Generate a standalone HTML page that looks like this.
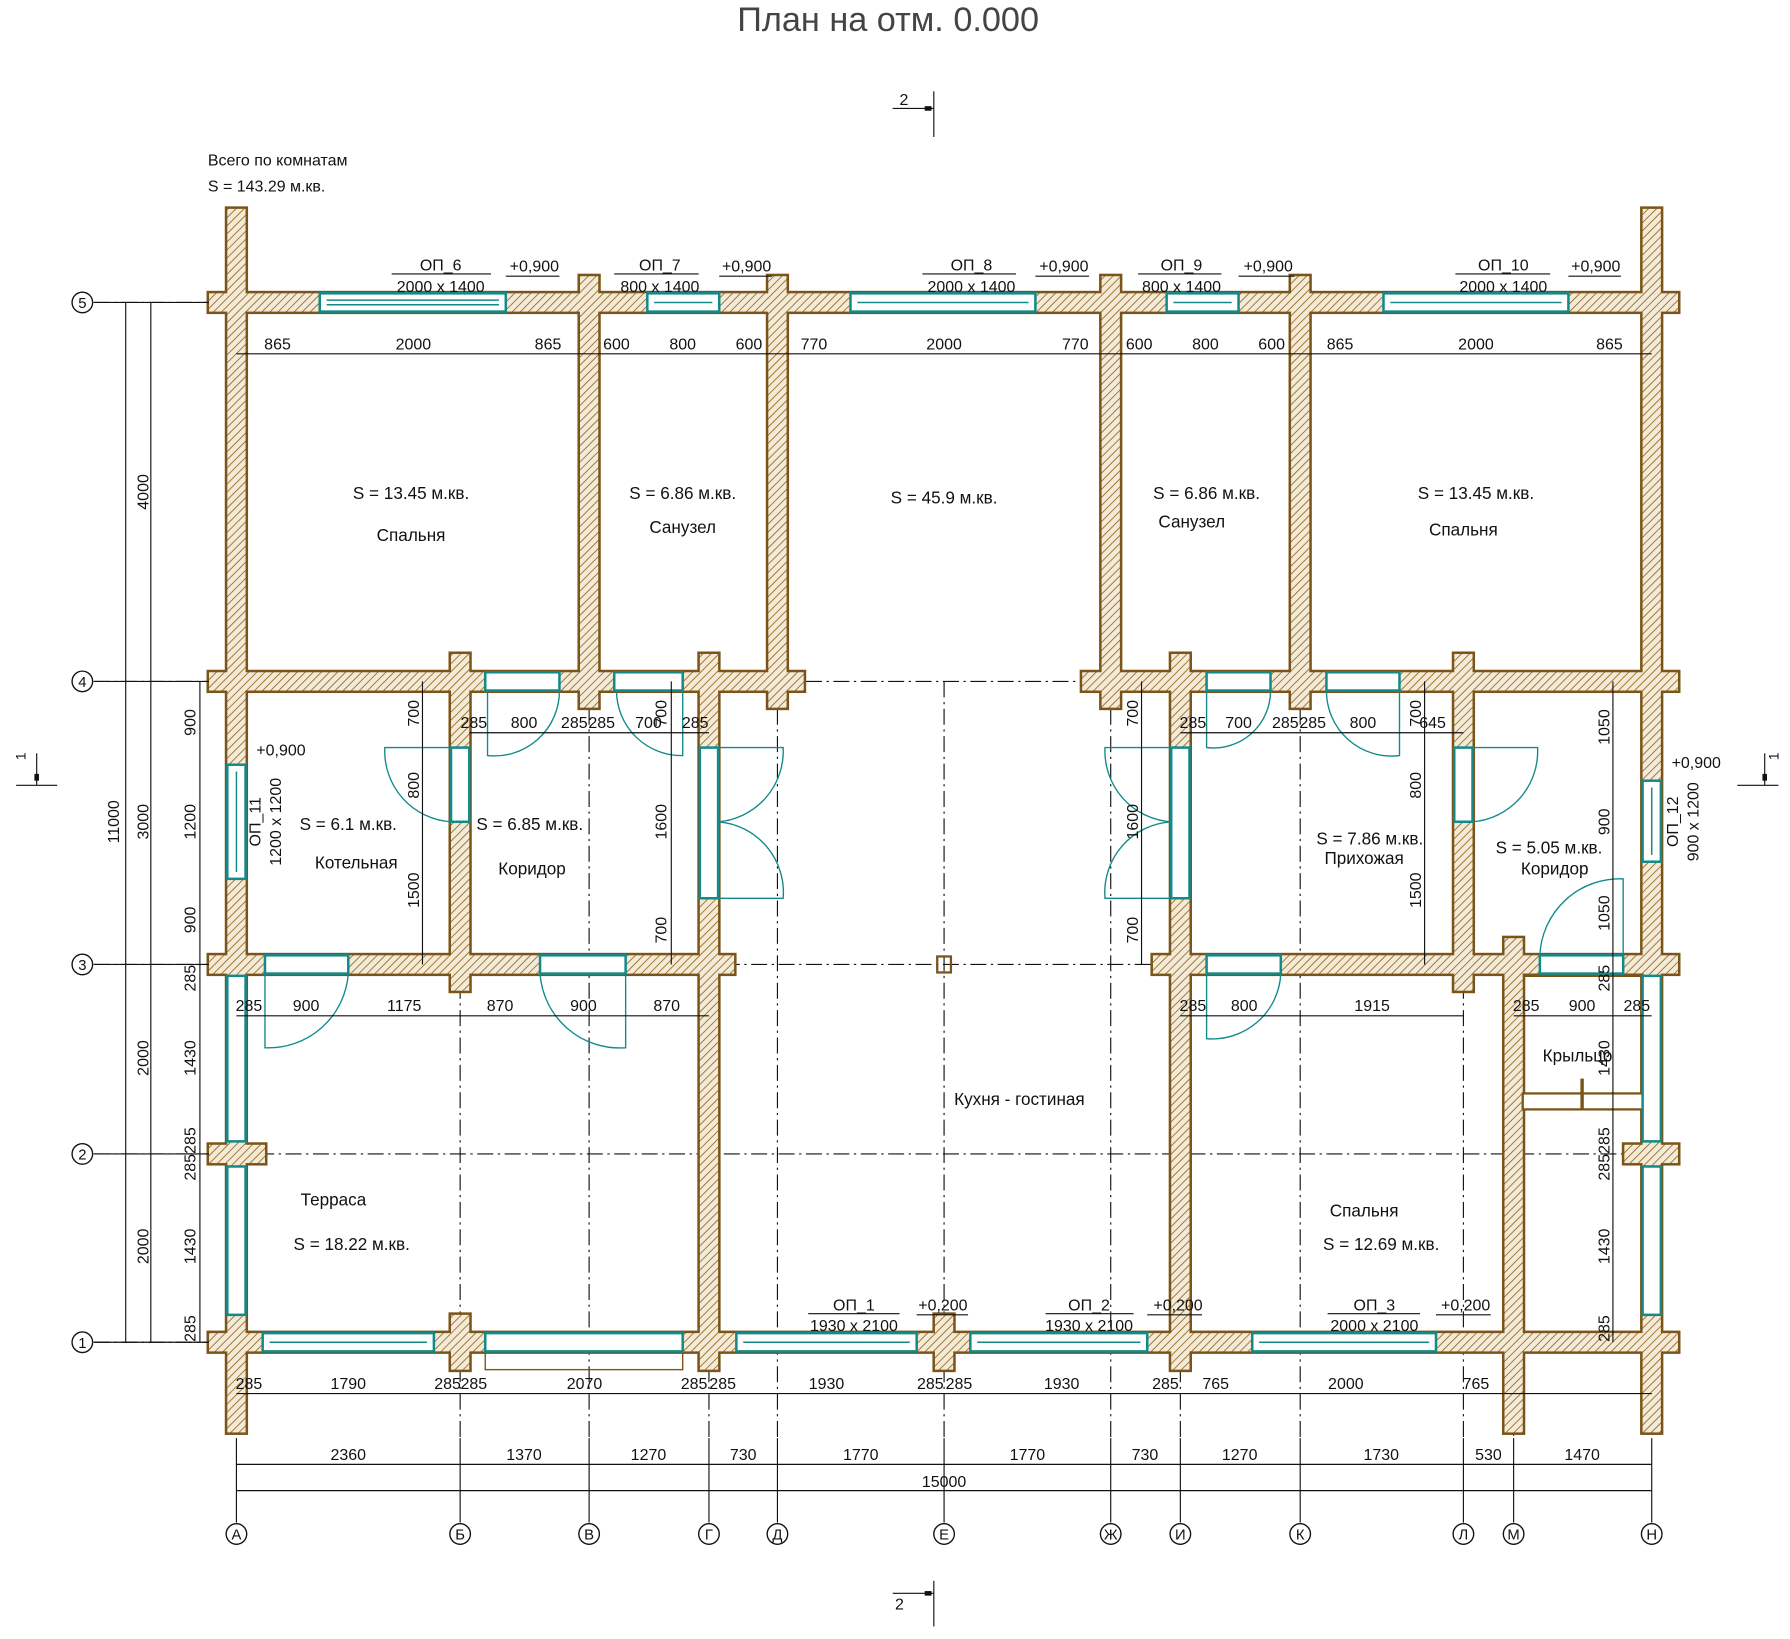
<!DOCTYPE html>
<html><head><meta charset="utf-8"><style>
html,body{margin:0;padding:0;background:#fff}
svg{display:block}
text{font-family:"Liberation Sans Narrow","Liberation Sans","DejaVu Sans",sans-serif;fill:#111}
.d{font-size:14px;text-anchor:middle}
.r{font-size:15px;text-anchor:middle}
.wo{fill:#7a5418;stroke:#7a5418;stroke-width:4.4}
.wf{fill:url(#h);stroke:none}
.g{fill:#fff;stroke:#138a8a;stroke-width:2.2}
.gl{stroke:#138a8a;stroke-width:1.3;fill:none}
.sw{stroke:#138a8a;stroke-width:1.2;fill:none}
.ax{stroke:#111;stroke-width:1;stroke-dasharray:14 4 2 4;fill:none}
.ln{stroke:#111;stroke-width:1;fill:none}
.bub{fill:#fff;stroke:#111;stroke-width:1.2}
</style></head><body>
<svg width="1790" height="1639" viewBox="0 0 1568 1436" xmlns="http://www.w3.org/2000/svg" xmlns:xlink="http://www.w3.org/1999/xlink">
<defs>
<pattern id="h" width="5" height="5" patternUnits="userSpaceOnUse" patternTransform="rotate(45)">
<rect width="5" height="5" fill="#f3ead8"/><line x1="0" y1="0" x2="0" y2="5" stroke="#9a7030" stroke-width="1.6"/>
</pattern>
<g id="walls">
<rect x="183" y="257" width="1287" height="16"/>
<rect x="183" y="589" width="521" height="16"/>
<rect x="948" y="589" width="522" height="16"/>
<rect x="183" y="837" width="460" height="16"/>
<rect x="1010" y="837" width="460" height="16"/>
<rect x="183" y="1168" width="1287" height="16"/>
<rect x="199" y="183" width="16" height="1072"/>
<rect x="1439" y="183" width="16" height="1072"/>
<rect x="508" y="242" width="16" height="378"/>
<rect x="673" y="242" width="16" height="378"/>
<rect x="965" y="242" width="16" height="378"/>
<rect x="1131" y="242" width="16" height="378"/>
<rect x="395" y="573" width="16" height="295"/>
<rect x="395" y="1152" width="16" height="48"/>
<rect x="613" y="573" width="16" height="627"/>
<rect x="1026" y="573" width="16" height="627"/>
<rect x="1274" y="573" width="16" height="295"/>
<rect x="1318" y="822" width="16" height="433"/>
<rect x="819" y="1152" width="16" height="48"/>
<rect x="183" y="1003" width="49" height="16"/>
<rect x="1423" y="1003" width="47" height="16"/>
</g>
</defs>
<rect width="1568" height="1436" fill="#fff"/>
<text x="778" y="27" style="font-size:30px;text-anchor:middle;fill:#444">План на отм. 0.000</text>
<text x="182" y="145" style="font-size:14px">Всего по комнатам</text>
<text x="182" y="168" style="font-size:14px">S   =  143.29 м.кв.</text>

<line x1="818" y1="80" x2="818" y2="120" class="ln" stroke-width="1.5"/><line x1="782" y1="95" x2="818" y2="95" class="ln"/><rect x="810" y="93" width="6" height="4" fill="#111"/><text x="788" y="92" style="font-size:14px">2</text>
<line x1="818" y1="1385" x2="818" y2="1425" class="ln" stroke-width="1.5"/><line x1="782" y1="1396" x2="818" y2="1396" class="ln"/><rect x="810" y="1394" width="6" height="4" fill="#111"/><text x="784" y="1410" style="font-size:14px">2</text>
<line x1="14" y1="688" x2="50" y2="688" class="ln" stroke-width="1.5"/><line x1="32" y1="660" x2="32" y2="688" class="ln"/><rect x="30" y="678" width="4" height="6" fill="#111"/><text x="22" y="666" style="font-size:12px" transform="rotate(-90 22 666)">1</text>
<line x1="1522" y1="688" x2="1558" y2="688" class="ln" stroke-width="1.5"/><line x1="1546" y1="660" x2="1546" y2="688" class="ln"/><rect x="1544" y="678" width="4" height="6" fill="#111"/><text x="1558" y="666" style="font-size:12px" transform="rotate(-90 1558 666)">1</text>

<g class="ax">
<line x1="82" y1="265" x2="1470" y2="265"/><line x1="82" y1="597" x2="1470" y2="597"/><line x1="82" y1="845" x2="1470" y2="845"/><line x1="82" y1="1011" x2="1470" y2="1011"/><line x1="82" y1="1176" x2="1470" y2="1176"/>
<line x1="403" y1="597" x2="403" y2="1260"/><line x1="516" y1="597" x2="516" y2="1260"/><line x1="621" y1="597" x2="621" y2="1260"/><line x1="681" y1="597" x2="681" y2="1260"/><line x1="827" y1="597" x2="827" y2="1260"/><line x1="973" y1="597" x2="973" y2="1260"/><line x1="1034" y1="597" x2="1034" y2="1260"/><line x1="1139" y1="597" x2="1139" y2="1260"/><line x1="1282" y1="597" x2="1282" y2="1260"/><line x1="1326" y1="860" x2="1326" y2="1260"/>
</g>
<rect x="821" y="838" width="12" height="14" fill="none" stroke="#7a5418" stroke-width="2"/>

<use xlink:href="#walls" class="wo"/>
<use xlink:href="#walls" class="wf"/>
<rect x="1334" y="853" width="106" height="3" fill="#7a5418"/>
<rect x="1334" y="958" width="106" height="14" fill="#fff" stroke="#7a5418" stroke-width="2"/>
<line x1="1386" y1="945" x2="1386" y2="972" stroke="#7a5418" stroke-width="3"/>
<rect x="425" y="1184" width="173" height="16" fill="none" stroke="#7a5418" stroke-width="1.2"/>

<g>
<rect class="g" x="280" y="257" width="163" height="16"/><rect class="g" x="567" y="257" width="63" height="16"/><rect class="g" x="745" y="257" width="162" height="16"/><rect class="g" x="1022" y="257" width="63" height="16"/><rect class="g" x="1212" y="257" width="162" height="16"/>
<rect class="g" x="230" y="1168" width="150" height="16"/><rect class="g" x="425" y="1168" width="173" height="16"/><rect class="g" x="645" y="1168" width="158" height="16"/><rect class="g" x="850" y="1168" width="155" height="16"/><rect class="g" x="1097" y="1168" width="161" height="16"/>
<rect class="g" x="425" y="589" width="65" height="16"/><rect class="g" x="538" y="589" width="60" height="16"/><rect class="g" x="1057" y="589" width="56" height="16"/><rect class="g" x="1162" y="589" width="64" height="16"/>
<rect class="g" x="232" y="837" width="73" height="16"/><rect class="g" x="473" y="837" width="75" height="16"/><rect class="g" x="1057" y="837" width="65" height="16"/><rect class="g" x="1349" y="837" width="73" height="16"/>
<rect class="g" x="199" y="670" width="16" height="100"/><rect class="g" x="1439" y="684" width="16" height="71"/>
<rect class="g" x="395" y="655" width="16" height="65"/><rect class="g" x="613" y="655" width="16" height="132"/><rect class="g" x="1026" y="655" width="16" height="132"/><rect class="g" x="1274" y="655" width="16" height="65"/>
<rect class="g" x="199" y="855" width="16" height="145"/><rect class="g" x="199" y="1022" width="16" height="130"/>
<rect class="g" x="1439" y="855" width="16" height="145"/><rect class="g" x="1439" y="1022" width="16" height="130"/>
</g>
<g class="gl">
<line x1="286" y1="263" x2="437" y2="263"/><line x1="286" y1="267" x2="437" y2="267"/><line x1="573" y1="265" x2="624" y2="265"/><line x1="751" y1="265" x2="901" y2="265"/><line x1="1028" y1="265" x2="1079" y2="265"/><line x1="1218" y1="265" x2="1368" y2="265"/>
<line x1="236" y1="1176" x2="374" y2="1176"/><line x1="651" y1="1176" x2="797" y2="1176"/><line x1="856" y1="1176" x2="999" y2="1176"/><line x1="1103" y1="1176" x2="1252" y2="1176"/>
<line x1="207" y1="676" x2="207" y2="764"/><line x1="1447" y1="690" x2="1447" y2="749"/>
</g>
<g class="sw">
<path d="M427 605 V662 A57 57 0 0 0 490 605"/>
<path d="M598 605 V662 A57 57 0 0 1 540 605"/>
<path d="M1057 605 V655 A50 50 0 0 0 1113 605"/>
<path d="M1226 605 V662 A57 57 0 0 1 1162 605"/>
<path d="M232 853 V918 A70 70 0 0 0 305 853"/>
<path d="M548 853 V918 A70 70 0 0 1 473 853"/>
<path d="M1057 853 V910 A60 60 0 0 0 1122 853"/>
<path d="M1422 837 V770 A70 70 0 0 0 1349 837"/>
<path d="M395 655 H337 A62 62 0 0 0 395 720"/>
<path d="M629 655 H686 A62 62 0 0 1 629 720 M629 787 H686 A62 62 0 0 0 629 720"/>
<path d="M1026 655 H968 A62 62 0 0 0 1026 720 M1026 787 H968 A62 62 0 0 1 1026 720"/>
<path d="M1290 655 H1347 A62 62 0 0 1 1290 720"/>
</g>

<g class="ln">
<line x1="207" y1="310" x2="1447" y2="310"/>
<line x1="207" y1="1221" x2="1447" y2="1221"/>
<line x1="207" y1="1283" x2="1447" y2="1283"/>
<line x1="207" y1="1306" x2="1447" y2="1306"/>
<line x1="110" y1="265" x2="110" y2="1176"/>
<line x1="132" y1="265" x2="132" y2="1176"/>
<line x1="175" y1="597" x2="175" y2="1176"/>
<line x1="1413" y1="597" x2="1413" y2="1176"/>
<line x1="411" y1="642" x2="621" y2="642"/>
<line x1="1034" y1="642" x2="1282" y2="642"/>
<line x1="207" y1="890" x2="621" y2="890"/>
<line x1="1034" y1="890" x2="1282" y2="890"/>
<line x1="1326" y1="890" x2="1447" y2="890"/>
<line x1="370" y1="597" x2="370" y2="845"/><line x1="588" y1="597" x2="588" y2="845"/>
<line x1="1000" y1="597" x2="1000" y2="845"/><line x1="1248" y1="597" x2="1248" y2="845"/>
<line x1="82" y1="265" x2="183" y2="265"/>
<line x1="207" y1="1260" x2="207" y2="1334"/><line x1="403" y1="1260" x2="403" y2="1334"/><line x1="516" y1="1260" x2="516" y2="1334"/><line x1="621" y1="1260" x2="621" y2="1334"/><line x1="681" y1="1260" x2="681" y2="1334"/><line x1="827" y1="1260" x2="827" y2="1334"/><line x1="973" y1="1260" x2="973" y2="1334"/><line x1="1034" y1="1260" x2="1034" y2="1334"/><line x1="1139" y1="1260" x2="1139" y2="1334"/><line x1="1282" y1="1260" x2="1282" y2="1334"/><line x1="1326" y1="1260" x2="1326" y2="1334"/><line x1="1447" y1="1260" x2="1447" y2="1334"/>
<line x1="82" y1="597" x2="183" y2="597"/><line x1="82" y1="845" x2="183" y2="845"/><line x1="82" y1="1011" x2="183" y2="1011"/><line x1="82" y1="1176" x2="183" y2="1176"/>
<line x1="343" y1="240" x2="430" y2="240"/><line x1="538" y1="240" x2="612" y2="240"/><line x1="808" y1="240" x2="890" y2="240"/><line x1="997" y1="240" x2="1070" y2="240"/><line x1="1275" y1="240" x2="1358" y2="240"/>
<line x1="708" y1="1151" x2="788" y2="1151"/><line x1="916" y1="1151" x2="993" y2="1151"/><line x1="1163" y1="1151" x2="1244" y2="1151"/>
<line x1="443" y1="242" x2="490" y2="242"/><line x1="630" y1="242" x2="676" y2="242"/><line x1="907" y1="242" x2="954" y2="242"/><line x1="1085" y1="242" x2="1134" y2="242"/><line x1="1374" y1="242" x2="1420" y2="242"/>
<line x1="803" y1="1152" x2="848" y2="1152"/><line x1="1005" y1="1152" x2="1053" y2="1152"/><line x1="1258" y1="1152" x2="1306" y2="1152"/>
</g>

<g>
<circle class="bub" cx="72" cy="265" r="9"/><circle class="bub" cx="72" cy="597" r="9"/><circle class="bub" cx="72" cy="845" r="9"/><circle class="bub" cx="72" cy="1011" r="9"/><circle class="bub" cx="72" cy="1176" r="9"/>
<circle class="bub" cx="207" cy="1344" r="9"/><circle class="bub" cx="403" cy="1344" r="9"/><circle class="bub" cx="516" cy="1344" r="9"/><circle class="bub" cx="621" cy="1344" r="9"/><circle class="bub" cx="681" cy="1344" r="9"/><circle class="bub" cx="827" cy="1344" r="9"/><circle class="bub" cx="973" cy="1344" r="9"/><circle class="bub" cx="1034" cy="1344" r="9"/><circle class="bub" cx="1139" cy="1344" r="9"/><circle class="bub" cx="1282" cy="1344" r="9"/><circle class="bub" cx="1326" cy="1344" r="9"/><circle class="bub" cx="1447" cy="1344" r="9"/>
</g>
<g class="d" style="font-size:13px">
<text x="72" y="270">5</text><text x="72" y="602">4</text><text x="72" y="850">3</text><text x="72" y="1016">2</text><text x="72" y="1181">1</text>
<text x="207" y="1349">А</text><text x="403" y="1349">Б</text><text x="516" y="1349">В</text><text x="621" y="1349">Г</text><text x="681" y="1349">Д</text><text x="827" y="1349">Е</text><text x="973" y="1349">Ж</text><text x="1034" y="1349">И</text><text x="1139" y="1349">К</text><text x="1282" y="1349">Л</text><text x="1326" y="1349">М</text><text x="1447" y="1349">Н</text>
</g>

<g class="d">
<text x="386" y="237">ОП_6</text><text x="386" y="256">2000 x 1400</text><text x="468" y="238">+0,900</text>
<text x="578" y="237">ОП_7</text><text x="578" y="256">800 x 1400</text><text x="654" y="238">+0,900</text>
<text x="851" y="237">ОП_8</text><text x="851" y="256">2000 x 1400</text><text x="932" y="238">+0,900</text>
<text x="1035" y="237">ОП_9</text><text x="1035" y="256">800 x 1400</text><text x="1111" y="238">+0,900</text>
<text x="1317" y="237">ОП_10</text><text x="1317" y="256">2000 x 1400</text><text x="1398" y="238">+0,900</text>
<text x="748" y="1148">ОП_1</text><text x="748" y="1166">1930 x 2100</text><text x="826" y="1148">+0,200</text>
<text x="954" y="1148">ОП_2</text><text x="954" y="1166">1930 x 2100</text><text x="1032" y="1148">+0,200</text>
<text x="1204" y="1148">ОП_3</text><text x="1204" y="1166">2000 x 2100</text><text x="1284" y="1148">+0,200</text>
<text x="246" y="662">+0,900</text><text x="1486" y="673">+0,900</text>
</g>
<g class="d">
<text x="228" y="720" transform="rotate(-90 228 720)">ОП_11</text><text x="246" y="720" transform="rotate(-90 246 720)">1200 x 1200</text>
<text x="1470" y="720" transform="rotate(-90 1470 720)">ОП_12</text><text x="1488" y="720" transform="rotate(-90 1488 720)">900 x 1200</text>
</g>

<g class="d">
<text x="243" y="306">865</text><text x="362" y="306">2000</text><text x="480" y="306">865</text><text x="540" y="306">600</text><text x="598" y="306">800</text><text x="656" y="306">600</text><text x="713" y="306">770</text><text x="827" y="306">2000</text><text x="942" y="306">770</text><text x="998" y="306">600</text><text x="1056" y="306">800</text><text x="1114" y="306">600</text><text x="1174" y="306">865</text><text x="1293" y="306">2000</text><text x="1410" y="306">865</text>
<text x="218" y="1217">285</text><text x="305" y="1217">1790</text><text x="392" y="1217">285</text><text x="415" y="1217">285</text><text x="512" y="1217">2070</text><text x="608" y="1217">285</text><text x="633" y="1217">285</text><text x="724" y="1217">1930</text><text x="815" y="1217">285</text><text x="840" y="1217">285</text><text x="930" y="1217">1930</text><text x="1021" y="1217">285</text><text x="1065" y="1217">765</text><text x="1179" y="1217">2000</text><text x="1293" y="1217">765</text>
<text x="305" y="1279">2360</text><text x="459" y="1279">1370</text><text x="568" y="1279">1270</text><text x="651" y="1279">730</text><text x="754" y="1279">1770</text><text x="900" y="1279">1770</text><text x="1003" y="1279">730</text><text x="1086" y="1279">1270</text><text x="1210" y="1279">1730</text><text x="1304" y="1279">530</text><text x="1386" y="1279">1470</text><text x="827" y="1303">15000</text>
<text x="415" y="638">285</text><text x="459" y="638">800</text><text x="503" y="638">285</text><text x="527" y="638">285</text><text x="568" y="638">700</text><text x="609" y="638">285</text><text x="1045" y="638">285</text><text x="1085" y="638">700</text><text x="1126" y="638">285</text><text x="1150" y="638">285</text><text x="1194" y="638">800</text><text x="1255" y="638">645</text>
<text x="218" y="886">285</text><text x="268" y="886">900</text><text x="354" y="886">1175</text><text x="438" y="886">870</text><text x="511" y="886">900</text><text x="584" y="886">870</text><text x="1045" y="886">285</text><text x="1090" y="886">800</text><text x="1202" y="886">1915</text><text x="1337" y="886">285</text><text x="1386" y="886">900</text><text x="1434" y="886">285</text>
</g>
<g class="d">
<text x="130" y="431" transform="rotate(-90 130 431)">4000</text>
<text x="104" y="720" transform="rotate(-90 104 720)">11000</text>
<text x="130" y="720" transform="rotate(-90 130 720)">3000</text>
<text x="130" y="927" transform="rotate(-90 130 927)">2000</text>
<text x="130" y="1092" transform="rotate(-90 130 1092)">2000</text>
<text x="171" y="633" transform="rotate(-90 171 633)">900</text>
<text x="171" y="720" transform="rotate(-90 171 720)">1200</text>
<text x="171" y="806" transform="rotate(-90 171 806)">900</text>
<text x="171" y="857" transform="rotate(-90 171 857)">285</text>
<text x="171" y="927" transform="rotate(-90 171 927)">1430</text>
<text x="171" y="1011" transform="rotate(-90 171 1011)">285285</text>
<text x="171" y="1092" transform="rotate(-90 171 1092)">1430</text>
<text x="171" y="1164" transform="rotate(-90 171 1164)">285</text>
<text x="367" y="625" transform="rotate(-90 367 625)">700</text>
<text x="367" y="688" transform="rotate(-90 367 688)">800</text>
<text x="367" y="780" transform="rotate(-90 367 780)">1500</text>
<text x="584" y="625" transform="rotate(-90 584 625)">700</text>
<text x="584" y="720" transform="rotate(-90 584 720)">1600</text>
<text x="584" y="815" transform="rotate(-90 584 815)">700</text>
<text x="997" y="625" transform="rotate(-90 997 625)">700</text>
<text x="997" y="720" transform="rotate(-90 997 720)">1600</text>
<text x="997" y="815" transform="rotate(-90 997 815)">700</text>
<text x="1245" y="625" transform="rotate(-90 1245 625)">700</text>
<text x="1245" y="688" transform="rotate(-90 1245 688)">800</text>
<text x="1245" y="780" transform="rotate(-90 1245 780)">1500</text>
<text x="1410" y="637" transform="rotate(-90 1410 637)">1050</text>
<text x="1410" y="720" transform="rotate(-90 1410 720)">900</text>
<text x="1410" y="800" transform="rotate(-90 1410 800)">1050</text>
<text x="1410" y="857" transform="rotate(-90 1410 857)">285</text>
<text x="1410" y="927" transform="rotate(-90 1410 927)">1430</text>
<text x="1410" y="1011" transform="rotate(-90 1410 1011)">285285</text>
<text x="1410" y="1092" transform="rotate(-90 1410 1092)">1430</text>
<text x="1410" y="1164" transform="rotate(-90 1410 1164)">285</text>
</g>

<g class="r">
<text x="360" y="437">S    =  13.45 м.кв.</text><text x="360" y="474">Спальня</text>
<text x="598" y="437">S    =  6.86 м.кв.</text><text x="598" y="467">Санузел</text>
<text x="827" y="441">S    =  45.9 м.кв.</text>
<text x="1057" y="437">S    =  6.86 м.кв.</text><text x="1044" y="462">Санузел</text>
<text x="1293" y="437">S    =  13.45 м.кв.</text><text x="1282" y="469">Спальня</text>
<text x="305" y="727">S    =  6.1 м.кв.</text><text x="312" y="761">Котельная</text>
<text x="464" y="727">S    =  6.85 м.кв.</text><text x="466" y="766">Коридор</text>
<text x="1200" y="740">S    =  7.86 м.кв.</text><text x="1195" y="757">Прихожая</text>
<text x="1357" y="748">S    =  5.05 м.кв.</text><text x="1362" y="766">Коридор</text>
<text x="893" y="968">Кухня - гостиная</text>
<text x="1382" y="930">Крыльцо</text>
<text x="292" y="1056">Терраса</text><text x="308" y="1095">S    =  18.22 м.кв.</text>
<text x="1195" y="1066">Спальня</text><text x="1210" y="1095">S    =  12.69 м.кв.</text>
</g>
</svg>
</body></html>
